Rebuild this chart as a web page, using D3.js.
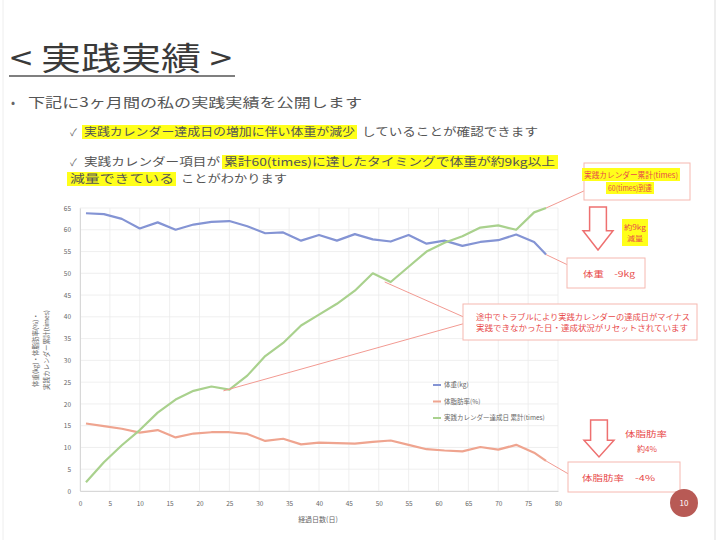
<!DOCTYPE html>
<html><head><meta charset="utf-8">
<script src="https://cdn.jsdelivr.net/npm/d3@7"></script>
<style>body{margin:0;background:#fff}svg{display:block;font-family:"Noto Sans CJK JP","Noto Sans",sans-serif}</style>
</head><body><svg id="c" width="720" height="540"></svg>
<script>
const days   = [1,4,7,10,13,16,19,22,25,28,31,34,37,40,43,46,49,52,55,58,61,64,67,70,73,76,78];
const weight = [63.8,63.6,62.5,60.3,61.7,60.0,61.2,61.8,62.0,60.8,59.2,59.4,57.5,58.8,57.5,59.0,57.8,57.3,58.8,56.8,57.5,56.3,57.2,57.6,58.9,57.2,54.3];
const bodyFat= [15.5,14.9,14.3,13.4,14.0,12.3,13.2,13.5,13.5,13.1,11.5,12.0,10.7,11.1,11.0,10.9,11.3,11.6,10.6,9.6,9.3,9.1,10.1,9.5,10.6,8.8,6.9];
const total  = [2.0,6.6,10.5,14.0,18.0,21.0,23.0,24.0,23.3,26.5,31.0,34.0,38.0,40.5,43.0,46.0,50.0,48.0,51.5,55.0,57.0,58.5,60.5,61.0,60.0,64.0,65.0];
const xTicks = d3.range(0,81,5);
const yTicks = d3.range(0,66,5);
const seriesNames = ["体重(kg)","体脂肪率(%)","実践カレンダー達成日 累計(times)"];
const seriesColors = ["#8494d4","#efa48f","#a9d18d"];

const svg = d3.select("#c");
svg.append("rect").attr("width",720).attr("height",540).attr("fill","#fff");
svg.append("line").attr("x1",715).attr("x2",715).attr("y1",0).attr("y2",540).attr("stroke","#ddd");
svg.append("line").attr("x1",3).attr("x2",3).attr("y1",0).attr("y2",540).attr("stroke","#eee");

function txt(x,y,s,size,fill,len,anchor){
  const t = svg.append("text").attr("x",x).attr("y",y).text(s).attr("font-size",size).attr("fill",fill);
  if(len){t.attr("textLength",len).attr("lengthAdjust","spacingAndGlyphs");}
  if(anchor) t.attr("text-anchor",anchor);
  return t;
}
function hl(x,y,w,h){svg.append("rect").attr("x",x).attr("y",y).attr("width",w).attr("height",h).attr("fill","#ffff1a");}

// Title
txt(10,70,"< 実践実績 >",32,"#3a3a3a",222);
svg.append("line").attr("x1",9).attr("x2",235).attr("y1",76).attr("y2",76).attr("stroke","#555").attr("stroke-width",1.5);
txt(11,107,"•",12,"#666");
txt(28,107,"下記に3ヶ月間の私の実践実績を公開します",13,"#555",334);

// sub bullets
txt(70,136,"✓",10,"#666");
hl(82,125,275,14);
txt(84,136,"実践カレンダー達成日の増加に伴い体重が減少",11,"#555",271);
txt(362,136,"していることが確認できます",11,"#555",176);
txt(70,166,"✓",10,"#666");
txt(84,166,"実践カレンダー項目が",11,"#555",136);
hl(222,155,336,14);
txt(224,166,"累計60(times)に達したタイミングで体重が約9kg以上",11,"#555",331);
hl(67,172,109,14);
txt(70,183,"減量できている",11,"#555",104);
txt(181,183,"ことがわかります",11,"#555",106);

// Chart
const x = d3.scaleLinear([0,80],[80,558]);
const y = d3.scaleLinear([0,65],[491,208]);
const g = svg.append("g");
g.selectAll(".vg").data(xTicks).join("line").attr("x1",d=>x(d)).attr("x2",d=>x(d)).attr("y1",y(0)).attr("y2",y(65)).attr("stroke","#ebebeb").attr("stroke-width",0.8);
g.selectAll(".hg").data(yTicks).join("line").attr("x1",x(0)).attr("x2",x(80)).attr("y1",d=>y(d)).attr("y2",d=>y(d)).attr("stroke","#ebebeb").attr("stroke-width",0.8);
const xa = g.append("g").attr("transform",`translate(0,${y(0)})`).call(d3.axisBottom(x).tickValues(xTicks).tickSize(0).tickPadding(10));
const ya = g.append("g").attr("transform",`translate(${x(0)},0)`).call(d3.axisLeft(y).tickValues(yTicks).tickSize(0).tickPadding(9));
[xa,ya].forEach(a=>{a.select(".domain").attr("stroke","#d8d8d8");a.selectAll("text").attr("font-size",6.5).attr("fill","#666").attr("font-family","'Noto Sans CJK JP',sans-serif");});
txt(318,522,"経過日数(日)",7,"#666",null,"middle");
svg.append("text").attr("transform","translate(38,350) rotate(-90)").attr("text-anchor","middle").attr("font-size",6.5).attr("fill","#666").text("体重(kg)・体脂肪率(%)・");
svg.append("text").attr("transform","translate(49,350) rotate(-90)").attr("text-anchor","middle").attr("font-size",6.5).attr("fill","#666").text("実践カレンダー累計(times)");

const line = d3.line().x((d,i)=>x(days[i])).y(d=>y(d));
[weight,bodyFat,total].forEach((s,k)=>{
  g.append("path").attr("d",line(s)).attr("fill","none").attr("stroke",seriesColors[k]).attr("stroke-width",2.2).attr("stroke-linejoin","round");
});
// legend
seriesNames.forEach((n,k)=>{
  const ly=385+k*16.5;
  svg.append("line").attr("x1",433).attr("x2",441).attr("y1",ly).attr("y2",ly).attr("stroke",seriesColors[k]).attr("stroke-width",2);
  txt(444,ly+2.3,n,6.5,"#666");
});

// annotations
const red="#e84a4a", pale="#f6b8b0";
function conn(x1,y1,x2,y2){svg.append("line").attr("x1",x1).attr("y1",y1).attr("x2",x2).attr("y2",y2).attr("stroke","#f29a92").attr("stroke-width",1);}
function box(x0,y0,w,h){svg.append("rect").attr("x",x0).attr("y",y0).attr("width",w).attr("height",h).attr("fill","#fff").attr("stroke",pale).attr("stroke-width",1);}
function arrow(x0,y0,w,h){
  const sw=w*0.28, hy=y0+h*0.55, cx=x0+w/2;
  const p=`M${cx-sw},${y0}L${cx+sw},${y0}L${cx+sw},${hy}L${x0+w},${hy}L${cx},${y0+h}L${x0},${hy}L${cx-sw},${hy}Z`;
  svg.append("path").attr("d",p).attr("fill","#fff").attr("stroke","#ee7070").attr("stroke-width",1.5);
}
conn(x(78),y(65),586,190);
conn(x(78),y(54.3),570,266);
conn(x(78),y(6.9),572,476);
conn(x(51),y(48),466,318);
conn(x(24),y(23),466,323);

box(584,163,106,37);
hl(582,168,98,13);
txt(584,178,"実践カレンダー累計(times)",7.5,red,94);
hl(606,182,48,12);
txt(608,191,"60(times)到達",7.5,red,44);
arrow(583,207,30,43);
hl(622,219,26,27);
txt(624,230,"約9kg",7,red,22);
txt(627,241,"減量",7,red,16);
box(567,258,78,30);
txt(583,277,"体重　-9kg",8,red,52);

box(463,304,234,36);
txt(476,320,"途中でトラブルにより実践カレンダーの達成日がマイナス",7.5,red,214);
txt(476,331,"実践できなかった日・達成状況がリセットされています",7.5,red,212);

arrow(584,420,30,37);
txt(625,437,"体脂肪率",7.5,red,42);
txt(637,452,"約4%",7.5,red,20);
box(568,462,112,30);
txt(582,481,"体脂肪率",8,red,42);
txt(635,481,"-4%",8,red,20);

svg.append("circle").attr("cx",684).attr("cy",503).attr("r",14).attr("fill","#b85a55");
txt(684,506,"10",8,"#fff",null,"middle");
</script></body></html>
